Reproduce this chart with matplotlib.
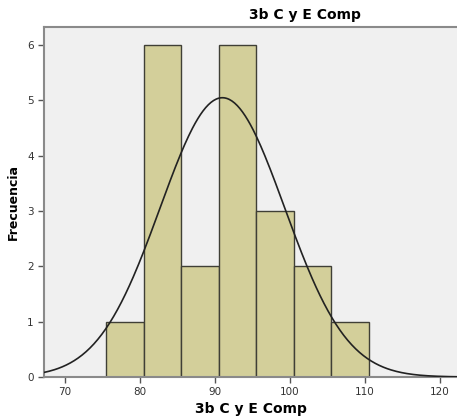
import numpy as np
import matplotlib
matplotlib.use("Agg")
import matplotlib.pyplot as plt

# histogram bins (bin edges) and counts
bin_edges = [75.5, 80.5, 85.5, 90.5, 95.5, 100.5, 105.5, 110.5]
counts = [1, 6, 2, 6, 3, 2, 1]

# fitted normal curve parameters
n_obs = 21
mean = 91.0
sd = 8.3

x_ticks = [70, 80, 90, 100, 110, 120]
y_ticks = [0, 1, 2, 3, 4, 5, 6]

fig = plt.figure(figsize=(4.57, 4.20), dpi=100)
ax = fig.add_axes([44 / 457, 1 - 377 / 420, 1 - 44 / 457, 350 / 420])
ax.set_facecolor("#F0F0F0")

lefts = np.array(bin_edges[:-1])
widths = np.diff(bin_edges)
ax.bar(lefts, counts, width=widths, align="edge", color="#D3CF9A",
       edgecolor="#3f3f36", linewidth=1.0, zorder=2)

# normal curve scaled to counts
bw = widths[0]
xs = np.linspace(60, 130, 400)
ys = n_obs * bw / (sd * np.sqrt(2 * np.pi)) * np.exp(-0.5 * ((xs - mean) / sd) ** 2)
ax.plot(xs, ys, color="#222222", linewidth=1.2, zorder=3)

ax.set_xlim(67.2, 122.3)
ax.set_ylim(0, 6.325)
ax.set_xticks(x_ticks)
ax.set_yticks(y_ticks)
ax.tick_params(axis="both", colors="#555555", labelcolor="#333333",
               labelsize=7.5, length=4, width=1, direction="out")

for side in ["left", "bottom", "top"]:
    ax.spines[side].set_color("#8a8a8a")
    ax.spines[side].set_linewidth(1.5)
ax.spines["right"].set_visible(False)

ax.set_xlabel("3b C y E Comp", fontsize=10, fontweight="bold", labelpad=3)
ax.set_ylabel("Frecuencia", fontsize=9, fontweight="bold", labelpad=5)
fig.text(305 / 457, 1 - 15 / 420, "3b C y E Comp", ha="center", va="center",
         fontsize=10, fontweight="bold")

fig.savefig("out.png", dpi=100)
